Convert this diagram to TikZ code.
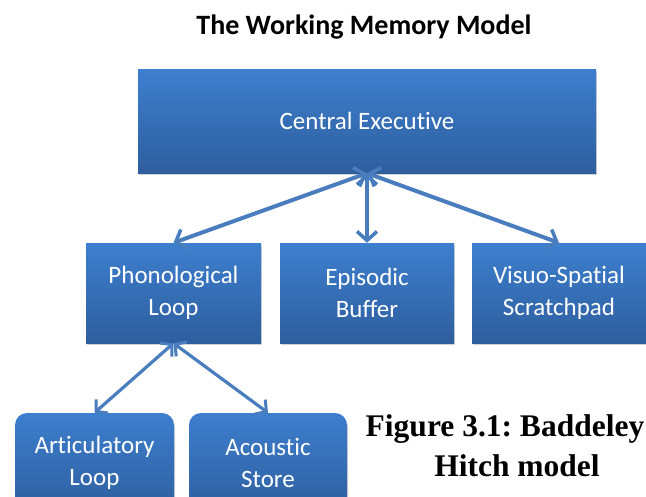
\documentclass[tikz,border=0pt]{standalone}
\usepackage{fontspec}
\setmainfont{Carlito}[RawFeature=-liga]
\newfontfamily\capfont{Liberation Serif}
\usetikzlibrary{arrows.meta,shadows}
\definecolor{boxtop}{HTML}{3D7FCE}
\definecolor{boxbot}{HTML}{2E5E9E}
\definecolor{arrowblue}{HTML}{4A7DBE}
\frenchspacing
\tikzset{
  box/.style={rectangle, inner sep=0pt, top color=boxtop, bottom color=boxbot,
    draw=none, text=white, align=center, font=\fontsize{25}{32}\selectfont,
    drop shadow={opacity=0.35, shadow xshift=1pt, shadow yshift=-2pt}},
  rbox/.style={box, rounded corners=12pt},
  link/.style={draw=arrowblue, line width=4pt,
    {Straight Barb[length=9pt,width=20pt,line width=3.5pt]}-{Straight Barb[length=9pt,width=20pt,line width=3.5pt]}},
  thinlink/.style={draw=arrowblue, line width=3.2pt,
    {Straight Barb[length=8pt,width=18pt,line width=3pt]}-{Straight Barb[length=8pt,width=18pt,line width=3pt]}}
}
\begin{document}
\begin{tikzpicture}[x=1pt,y=-1pt]
\clip (0,0) rectangle (646,496);
\fill[white] (0,0) rectangle (646,496);
\node[font=\fontsize{28}{32}\selectfont\bfseries] (title) at (364,27) {The Working Memory Model};
\node[box, minimum width=458pt, minimum height=104pt] (ce) at (367,121) {Central Executive};
\node[box, minimum width=175pt, minimum height=100pt] (pl) at (173.5,293) {Phonological\\Loop};
\node[box, minimum width=174pt, minimum height=100pt] (eb) at (367,293) {Episodic\\Buffer};
\node[box, minimum width=174pt, minimum height=100pt] (vs) at (559,293) {Visuo-Spatial\\Scratchpad};
\node[rbox, minimum width=159pt, minimum height=100pt] (al) at (94.5,463) {Articulatory\\Loop};
\node[rbox, minimum width=158pt, minimum height=100pt] (as) at (268,463) {Acoustic\\Store};
\node[font=\capfont\fontsize{31.5}{38}\selectfont\bfseries, anchor=base] (cap1) at (505,436) {Figure 3.1: Baddeley};
\node[font=\capfont\fontsize{31.5}{38}\selectfont\bfseries, anchor=base] (cap2) at (517,476) {Hitch model};
\draw[link] (ce.south) -- (pl.north);
\draw[link] (ce.south) -- (eb.north);
\draw[link] (ce.south) -- (vs.north);
\draw[thinlink] (pl.south) -- (al.north);
\draw[thinlink] (pl.south) -- (as.north);
\end{tikzpicture}
\end{document}
